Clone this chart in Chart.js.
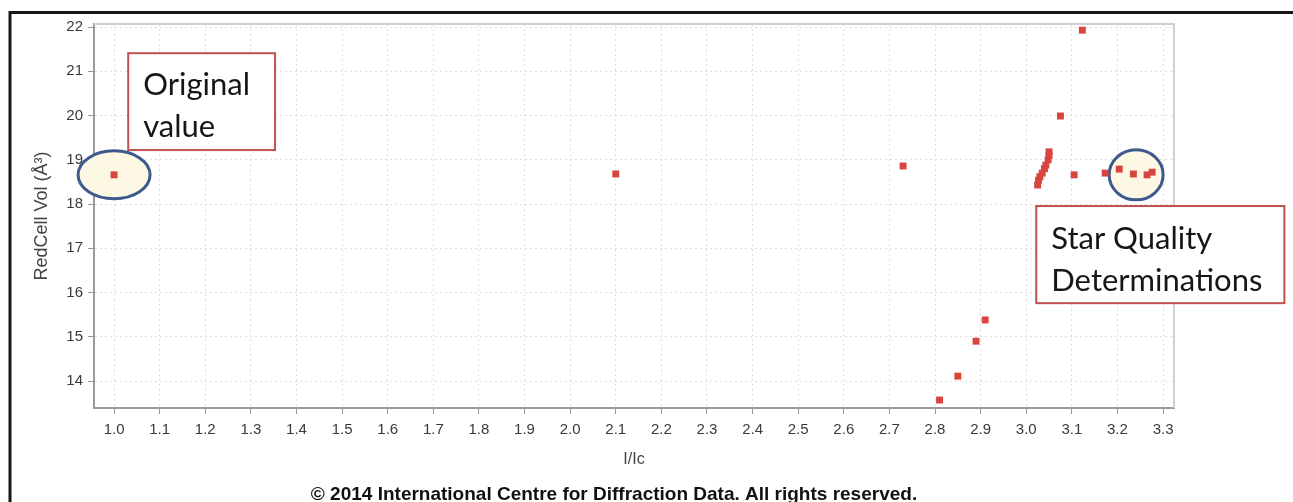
<!DOCTYPE html>
<html>
<head>
<meta charset="utf-8">
<script src="https://cdn.jsdelivr.net/npm/chart.js@4"></script>
<style>
  html, body { margin: 0; padding: 0; background: #fff; }
  canvas { display: block; }
</style>
</head>
<body>
<canvas id="c" width="1293" height="502"></canvas>
<script>
// ---- data ----
const xValues = [1.00, 2.10, 2.73, 2.81, 2.85, 2.89, 2.91, 3.025, 3.027, 3.03, 3.035, 3.04, 3.043, 3.048, 3.05, 3.05, 3.075, 3.105, 3.123, 3.173, 3.204, 3.235, 3.265, 3.276];
const yValues = [18.66, 18.68, 18.86, 13.57, 14.11, 14.90, 15.38, 18.43, 18.54, 18.62, 18.70, 18.80, 18.88, 19.00, 19.10, 19.18, 19.99, 18.66, 21.93, 18.70, 18.79, 18.68, 18.66, 18.72];
const xTicks = [1.0, 1.1, 1.2, 1.3, 1.4, 1.5, 1.6, 1.7, 1.8, 1.9, 2.0, 2.1, 2.2, 2.3, 2.4, 2.5, 2.6, 2.7, 2.8, 2.9, 3.0, 3.1, 3.2, 3.3];
const yTicks = [14, 15, 16, 17, 18, 19, 20, 21, 22];
const xTitle = 'I/Ic';
const yTitle = 'RedCell Vol (Å³)';
const footer = '© 2014 International Centre for Diffraction Data. All rights reserved.';
const notes = [
  { lines: ['Original', 'value'], x0: 1.031, x1: 1.353, y0: 21.41, y1: 19.22, dy: 4 },
  { lines: ['Star Quality', 'Determinations'], x0: 3.022, x1: 3.566, y0: 17.955, y1: 15.76, dy: 5 }
];
const rings = [
  { x: 1.00, y: 18.66, rx: 36, ry: 24 },
  { x: 3.241, y: 18.66, rx: 27, ry: 25 }
];

const points = xValues.map((x, i) => ({ x: x, y: yValues[i] }));

const decor = {
  id: 'decor',
  beforeDraw(chart) {
    const ctx = chart.ctx;
    ctx.save();
    ctx.fillStyle = '#fff';
    ctx.fillRect(0, 0, chart.width, chart.height);
    ctx.strokeStyle = '#161616';
    ctx.lineWidth = 3;
    ctx.beginPath();
    ctx.moveTo(10, chart.height);
    ctx.lineTo(10, 12.5);
    ctx.lineTo(chart.width, 12.5);
    ctx.stroke();
    ctx.restore();
  },
  beforeDatasetsDraw(chart) {
    const ctx = chart.ctx, a = chart.chartArea;
    const xs = chart.scales.x, ys = chart.scales.y;
    ctx.save();
    ctx.strokeStyle = '#cfcfcf';
    ctx.lineWidth = 2;
    ctx.beginPath();
    ctx.moveTo(a.left, a.top);
    ctx.lineTo(a.right, a.top);
    ctx.lineTo(a.right, a.bottom);
    ctx.stroke();
    rings.forEach(r => {
      const cx = xs.getPixelForValue(r.x), cy = ys.getPixelForValue(r.y);
      ctx.beginPath();
      ctx.ellipse(cx, cy, r.rx, r.ry, 0, 0, Math.PI * 2);
      ctx.fillStyle = '#fdf8e3';
      ctx.fill();
      ctx.strokeStyle = '#3c5a8c';
      ctx.lineWidth = 3;
      ctx.stroke();
    });
    ctx.restore();
  },
  afterDraw(chart) {
    const ctx = chart.ctx;
    const xs = chart.scales.x, ys = chart.scales.y;
    ctx.save();
    notes.forEach(n => {
      const l = xs.getPixelForValue(n.x0), r = xs.getPixelForValue(n.x1);
      const t = ys.getPixelForValue(n.y0), b = ys.getPixelForValue(n.y1);
      ctx.fillStyle = '#fff';
      ctx.fillRect(l, t, r - l, b - t);
      ctx.strokeStyle = '#c0504d';
      ctx.lineWidth = 2;
      ctx.strokeRect(l, t, r - l, b - t);
      ctx.fillStyle = '#161616';
      ctx.font = '31px Lato';
      ctx.textBaseline = 'middle';
      ctx.textAlign = 'left';
      const lh = 42;
      const mid = (t + b) / 2 + n.dy;
      n.lines.forEach((s, i) => {
        ctx.fillText(s, l + 15, mid + (i - (n.lines.length - 1) / 2) * lh);
      });
    });
    ctx.fillStyle = '#111';
    ctx.font = 'bold 19px "Liberation Sans", Arial';
    ctx.textAlign = 'center';
    ctx.textBaseline = 'middle';
    ctx.fillText(footer, 614, 495);
    ctx.restore();
  }
};

new Chart(document.getElementById('c'), {
  type: 'scatter',
  data: {
    datasets: [{
      data: points,
      pointStyle: 'rect',
      pointRadius: 4.9,
      borderWidth: 0,
      backgroundColor: '#d8453f',
      borderColor: '#d8453f'
    }]
  },
  options: {
    responsive: false,
    animation: false,
    events: [],
    layout: { padding: { left: 12, top: 24, right: 119, bottom: 32 } },
    plugins: { legend: { display: false }, tooltip: { enabled: false } },
    scales: {
      x: {
        type: 'linear',
        min: 0.956, max: 3.324,
        afterFit(s) { s.height = 62; },
        afterBuildTicks(s) { s.ticks = xTicks.map(v => ({ value: v })); },
        ticks: {
          callback: v => Number(v).toFixed(1),
          font: { family: 'Arial', size: 15 },
          color: '#3a3a3a',
          padding: 7,
          maxRotation: 0,
          autoSkip: false
        },
        grid: { color: '#dedede', tickColor: '#999', tickLength: 6, lineWidth: 1 },
        border: { color: '#9a9a9a', width: 2, dash: [2, 3] },
        title: {
          display: true, text: xTitle,
          font: { family: 'Arial', size: 16 }, color: '#444',
          padding: { top: 0, bottom: 1 }
        }
      },
      y: {
        type: 'linear',
        min: 13.39, max: 22.07,
        afterFit(s) { s.width = 82; },
        afterBuildTicks(s) { s.ticks = yTicks.map(v => ({ value: v })); },
        ticks: {
          font: { family: 'Arial', size: 15 },
          color: '#3a3a3a',
          padding: 5,
          autoSkip: false
        },
        grid: { color: '#dedede', tickColor: '#999', tickLength: 6, lineWidth: 1 },
        border: { color: '#9a9a9a', width: 2, dash: [2, 3] },
        title: {
          display: true, text: yTitle,
          font: { family: 'Arial', size: 18 }, color: '#444',
          padding: { top: 19, bottom: 0 }
        }
      }
    }
  },
  plugins: [decor]
});
</script>
</body>
</html>
